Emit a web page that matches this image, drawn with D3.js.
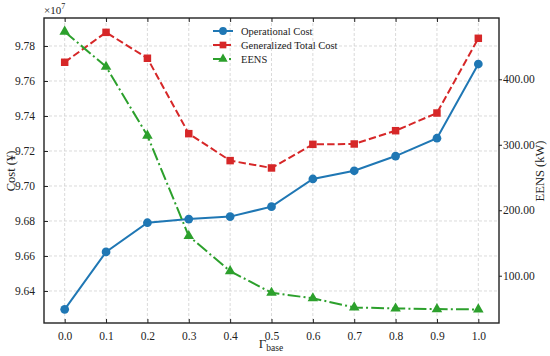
<!DOCTYPE html>
<html>
<head>
<meta charset="utf-8">
<script src="https://cdn.jsdelivr.net/npm/d3@7"></script>
<style>
  body { margin: 0; background: #fff; }
  svg { display: block; font-family: "Liberation Serif", "Times New Roman", serif; }
</style>
</head>
<body>
<div id="chart"></div>
<script>
// data
const gammaBase = [0.0, 0.1, 0.2, 0.3, 0.4, 0.5, 0.6, 0.7, 0.8, 0.9, 1.0]
const operationalCost = [96295000, 96623000, 96790000, 96811000, 96825000, 96882000, 97040000, 97087000, 97171000, 97273000, 97697000]
const generalizedTotalCost = [97707000, 97878000, 97730000, 97299000, 97145000, 97103000, 97238000, 97240000, 97316000, 97417000, 97844000]
const eens = [472.7, 419.2, 313.9, 160.6, 107.0, 74.0, 65.5, 51.6, 50.0, 49.0, 48.5]
const xTicks = [0.0, 0.1, 0.2, 0.3, 0.4, 0.5, 0.6, 0.7, 0.8, 0.9, 1.0]
const costTicks = [96400000, 96600000, 96800000, 97000000, 97200000, 97400000, 97600000, 97800000]
const eensTicks = [100, 200, 300, 400]

let width = 550,
    height = 356,
    margin = { top: 18, right: 51, bottom: 33, left: 44 }

let svg = d3.select('#chart').append('svg')
    .attr('width', width)
    .attr('height', height)

let x = d3.scaleLinear()
    .domain([-0.05, 1.05])
    .range([margin.left, width - margin.right])

let yCost = d3.scaleLinear()
    .domain([96217000, 97960000])
    .range([height - margin.bottom, margin.top])

let yEens = d3.scaleLinear()
    .domain([27.8, 493.6])
    .range([height - margin.bottom, margin.top])

// grid
let grid = svg.append('g').attr('class', 'grid')
grid.selectAll('.vgrid').data(xTicks).enter().append('line')
    .attr('x1', d => x(d)).attr('x2', d => x(d))
    .attr('y1', margin.top).attr('y2', height - margin.bottom)
grid.selectAll('.hgrid').data(costTicks).enter().append('line')
    .attr('x1', margin.left).attr('x2', width - margin.right)
    .attr('y1', d => yCost(d)).attr('y2', d => yCost(d))
grid.selectAll('line')
    .attr('stroke', '#d0d0d0')
    .attr('stroke-width', 0.8)
    .attr('stroke-dasharray', '3,2')

// axes
let styleAxis = g => g
    .call(g => g.select('.domain').remove())
    .call(g => g.selectAll('.tick line').attr('stroke', '#222').attr('stroke-width', 1))
    .call(g => g.selectAll('.tick text').attr('fill', '#222').attr('font-size', 11.5)
        .attr('font-family', '"Liberation Serif", "Times New Roman", serif'))

svg.append('g')
    .attr('transform', `translate(0,${height - margin.bottom})`)
    .call(d3.axisBottom(x).tickValues(xTicks).tickFormat(d3.format('.1f')).tickSizeInner(-4).tickPadding(9))
    .call(styleAxis)

svg.append('g')
    .attr('transform', `translate(0,${margin.top})`)
    .call(d3.axisTop(x).tickValues(xTicks).tickFormat('').tickSizeInner(-4))
    .call(styleAxis)

svg.append('g')
    .attr('transform', `translate(${margin.left},0)`)
    .call(d3.axisLeft(yCost).tickValues(costTicks).tickFormat(d => (d / 1e7).toFixed(2)).tickSizeInner(-4).tickPadding(9))
    .call(styleAxis)

svg.append('g')
    .attr('transform', `translate(${width - margin.right},0)`)
    .call(d3.axisRight(yEens).tickValues(eensTicks).tickFormat(d3.format('.2f')).tickSizeInner(3).tickPadding(1))
    .call(styleAxis)

// frame
svg.append('rect')
    .attr('x', margin.left).attr('y', margin.top)
    .attr('width', width - margin.left - margin.right)
    .attr('height', height - margin.top - margin.bottom)
    .attr('fill', 'none')
    .attr('stroke', '#222')
    .attr('stroke-width', 1.4)

// series
let series = [
    { name: 'Operational Cost', values: operationalCost, y: yCost, color: '#1f77b4', dash: null, marker: d3.symbolCircle, size: 60 },
    { name: 'Generalized Total Cost', values: generalizedTotalCost, y: yCost, color: '#d62728', dash: '7.4,3.2', marker: d3.symbolSquare, size: 56 },
    { name: 'EENS', values: eens, y: yEens, color: '#2ca02c', dash: '12.8,3.2,2,3.2', marker: d3.symbolTriangle, size: 48 }
]

series.forEach(s => {
    let line = d3.line()
        .x((d, i) => x(gammaBase[i]))
        .y(d => s.y(d))
    svg.append('path')
        .datum(s.values)
        .attr('d', line)
        .attr('fill', 'none')
        .attr('stroke', s.color)
        .attr('stroke-width', 2)
        .attr('stroke-dasharray', s.dash)
    svg.append('g').selectAll('path')
        .data(s.values)
        .enter().append('path')
        .attr('d', d3.symbol().type(s.marker).size(s.size))
        .attr('transform', (d, i) => `translate(${x(gammaBase[i])},${s.y(d)})`)
        .attr('fill', s.color)
})

// legend
let legend = svg.append('g').attr('transform', 'translate(213,31)')
series.forEach((s, i) => {
    let row = legend.append('g').attr('transform', `translate(0,${i * 14})`)
    row.append('line')
        .attr('x1', 0).attr('x2', 20)
        .attr('stroke', s.color).attr('stroke-width', 2)
        .attr('stroke-dasharray', s.dash)
    row.append('path')
        .attr('d', d3.symbol().type(s.marker).size(s.size * 0.8))
        .attr('transform', 'translate(10,0)')
        .attr('fill', s.color)
    row.append('text')
        .attr('x', 28).attr('y', 4)
        .attr('font-size', 10.5)
        .attr('fill', '#222')
        .text(s.name)
})

// labels
svg.append('text')
    .attr('transform', 'translate(15,171) rotate(-90)')
    .attr('text-anchor', 'middle')
    .attr('font-size', 12.5)
    .attr('fill', '#222')
    .text('Cost (¥)')

svg.append('text')
    .attr('transform', 'translate(544,171) rotate(-90)')
    .attr('text-anchor', 'middle')
    .attr('font-size', 12.5)
    .attr('fill', '#222')
    .text('EENS (kW)')

let xl = svg.append('text')
    .attr('x', 271).attr('y', 348)
    .attr('text-anchor', 'middle')
    .attr('font-size', 13)
    .attr('fill', '#222')
xl.append('tspan').text('Γ')
xl.append('tspan').attr('font-size', 9.5).attr('dy', 3).text('base')

let exp = svg.append('text')
    .attr('x', 44).attr('y', 14)
    .attr('font-size', 11)
    .attr('fill', '#222')
exp.append('tspan').text('×10')
exp.append('tspan').attr('font-size', 8).attr('dy', -5).text('7')
</script>
</body>
</html>
